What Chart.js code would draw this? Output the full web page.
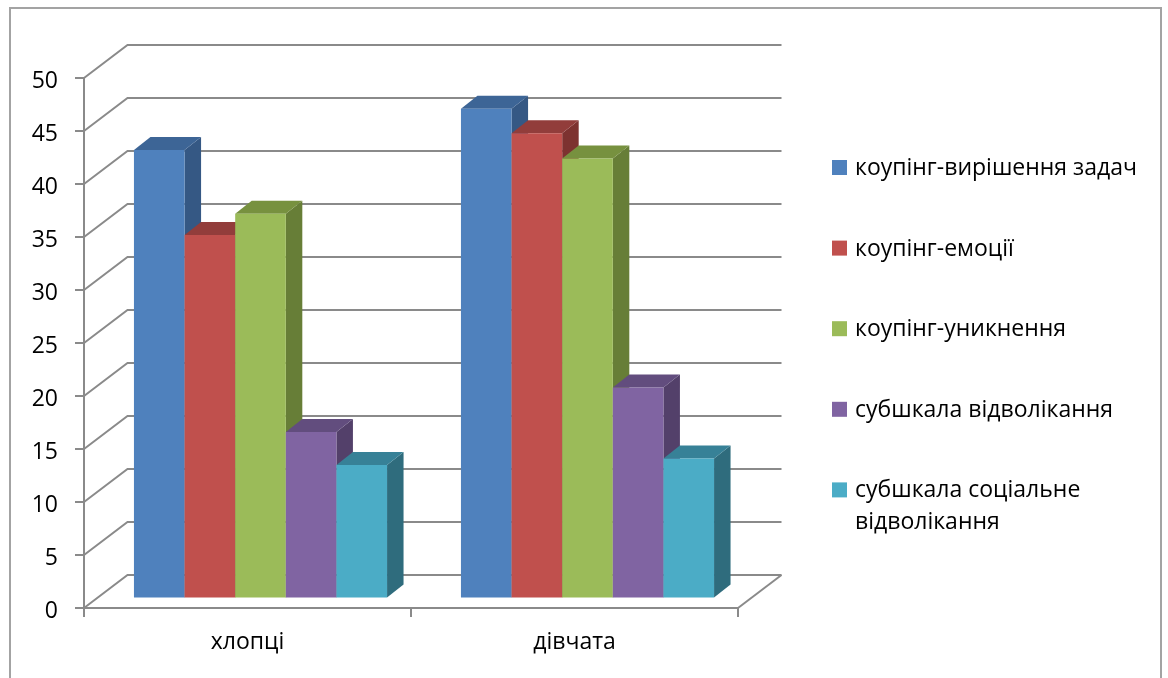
<!DOCTYPE html>
<html>
<head>
<meta charset="utf-8">
<script src="https://cdn.jsdelivr.net/npm/chart.js@4/dist/chart.umd.min.js"></script>
<style>
  html, body { margin: 0; padding: 0; background: #fff; }
  #wrap { width: 1168px; height: 678px; }
</style>
</head>
<body>
<div id="wrap"><canvas id="c" width="1168" height="678"></canvas></div>
<script>
// Groups along the category axis
const categories = ['хлопці', 'дівчата'];

// Series names (legend order)
const seriesNames = [
  'коупінг-вирішення задач',
  'коупінг-емоції',
  'коупінг-уникнення',
  'субшкала відволікання',
  'субшкала соціальне відволікання'
];

// Mean scores per group
const problemSolving  = [42.3, 46.2];
const emotions        = [34.3, 43.9];
const avoidance       = [36.3, 41.5];
const distraction     = [15.7, 19.9];
const socialDiversion = [12.6, 13.2];

// Value axis ticks
const yTicks = [0, 5, 10, 15, 20, 25, 30, 35, 40, 45, 50];

// Face colours: front, top, side
const frontColors = ['#4F81BD', '#C0504D', '#9BBB59', '#8064A2', '#4BACC6'];
const topColors   = ['#3D6596', '#923D3B', '#77913F', '#624D7E', '#378197'];
const sideColors  = ['#355884', '#7D3230', '#677E37', '#53406A', '#2F6C7D'];

const seriesValues = [problemSolving, emotions, avoidance, distraction, socialDiversion];

const FONT = { family: '"Open Sans", "Noto Sans", sans-serif', size: 23 };
const LINE = '#8a8a8a';

// Oblique projection: wall depth, bar shift into the box, bar depth
const WALL = { dx: 43.5, dy: -33 };
const BAR_SHIFT = { dx: 13, dy: -9.5 };
const DEPTH = { dx: 16.5, dy: -13 };

function poly(ctx, pts, fill) {
  ctx.beginPath();
  ctx.moveTo(pts[0][0], pts[0][1]);
  for (let i = 1; i < pts.length; i++) ctx.lineTo(pts[i][0], pts[i][1]);
  ctx.closePath();
  ctx.fillStyle = fill;
  ctx.fill();
}

// Side wall, back wall and floor lines, then the 3D bars painted left to right
const box3d = {
  id: 'box3d',
  beforeDraw(chart) {
    const { ctx } = chart;
    ctx.save();
    ctx.strokeStyle = '#a3a3a3';
    ctx.lineWidth = 2;
    ctx.strokeRect(10, 8, 1151, 700);
    ctx.restore();
  },
  beforeDatasetsDraw(chart) {
    const { ctx, chartArea: a, scales: { y } } = chart;
    ctx.save();
    ctx.strokeStyle = LINE;
    ctx.lineWidth = 2;
    ctx.lineJoin = 'miter';
    yTicks.forEach(v => {
      const py = y.getPixelForValue(v);
      ctx.beginPath();
      ctx.moveTo(a.left, py);
      ctx.lineTo(a.left + WALL.dx, py + WALL.dy);
      ctx.lineTo(a.right + WALL.dx, py + WALL.dy);
      ctx.stroke();
    });
    const p0 = y.getPixelForValue(0);
    ctx.beginPath();
    ctx.moveTo(a.right, p0);
    ctx.lineTo(a.right + WALL.dx, p0 + WALL.dy);
    ctx.stroke();
    ctx.restore();

    ctx.save();
    ctx.translate(BAR_SHIFT.dx, BAR_SHIFT.dy);
    chart.data.datasets.forEach((ds, i) => {
      const meta = chart.getDatasetMeta(i);
      meta.data.forEach(el => {
        const p = el.getProps(['x', 'y', 'base', 'width'], true);
        const l = p.x - p.width / 2, r = p.x + p.width / 2;
        const t = Math.min(p.y, p.base), b = Math.max(p.y, p.base);
        poly(ctx, [[r, t], [r + DEPTH.dx, t + DEPTH.dy], [r + DEPTH.dx, b + DEPTH.dy], [r, b]], sideColors[i]);
        poly(ctx, [[l, t], [l + DEPTH.dx, t + DEPTH.dy], [r + DEPTH.dx, t + DEPTH.dy], [r, t]], topColors[i]);
        el.draw(ctx);
      });
    });
    ctx.restore();
    return false;
  },
  afterDraw(chart) {
    const { ctx } = chart;
    ctx.save();
    ctx.font = `${FONT.size}px ${FONT.family}`;
    ctx.textBaseline = 'middle';
    ctx.textAlign = 'left';
    const maxW = 300;
    chart.data.datasets.forEach((ds, i) => {
      const cy = 167.5 + i * 80.6;
      ctx.fillStyle = frontColors[i];
      ctx.fillRect(832, cy - 7.5, 15, 15);
      // word wrap
      const words = ds.label.split(' ');
      const lines = [];
      let cur = '';
      words.forEach(w => {
        const test = cur ? cur + ' ' + w : w;
        if (ctx.measureText(test).width > maxW && cur) { lines.push(cur); cur = w; }
        else cur = test;
      });
      lines.push(cur);
      ctx.fillStyle = '#000';
      lines.forEach((ln, k) => ctx.fillText(ln, 855, cy + 1 + k * 32));
    });
    ctx.restore();
  }
};

new Chart(document.getElementById('c'), {
  type: 'bar',
  data: {
    labels: categories,
    datasets: seriesNames.map((name, i) => ({
      label: name,
      data: seriesValues[i],
      backgroundColor: frontColors[i],
      borderWidth: 0,
      categoryPercentage: 0.774,
      barPercentage: 1.0
    }))
  },
  options: {
    responsive: false,
    animation: false,
    devicePixelRatio: 1,
    layout: { padding: { left: 0, top: 78, right: 430, bottom: 0 } },
    plugins: { legend: { display: false }, tooltip: { enabled: false } },
    scales: {
      x: {
        grid: { offset: true, drawOnChartArea: false, drawTicks: true, tickLength: 9, color: LINE, lineWidth: 2 },
        border: { color: LINE, width: 2 },
        ticks: { font: FONT, color: '#000', padding: 12 },
        afterFit: s => { s.height = 70; }
      },
      y: {
        min: 0,
        max: 50,
        afterBuildTicks: s => { s.ticks = yTicks.map(v => ({ value: v })); },
        grid: { drawOnChartArea: false, drawTicks: true, tickLength: 9, color: LINE, lineWidth: 2 },
        border: { color: LINE, width: 2 },
        ticks: { font: FONT, color: '#000', padding: 17, labelOffset: 3 },
        afterFit: s => { s.width = 84; }
      }
    }
  },
  plugins: [box3d]
});
</script>
</body>
</html>
